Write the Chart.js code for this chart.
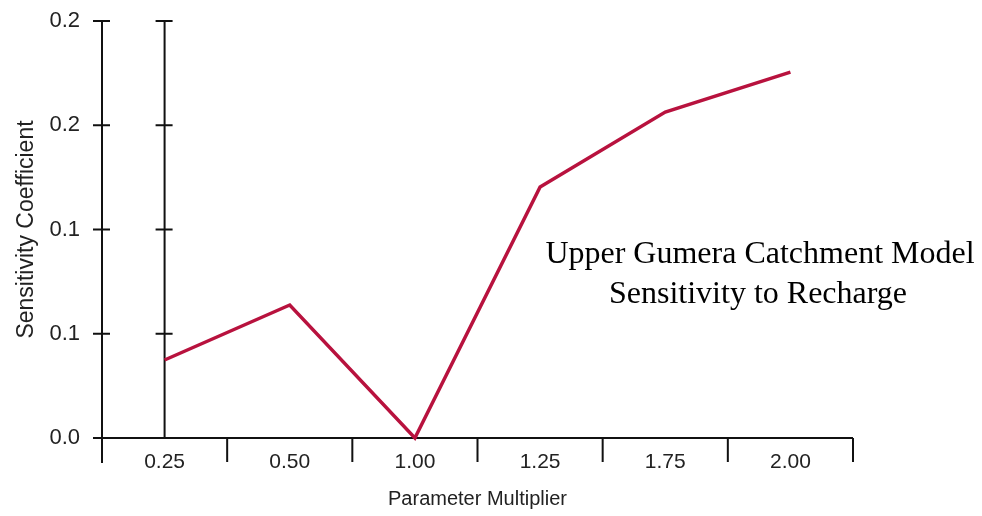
<!DOCTYPE html>
<html>
<head>
<meta charset="utf-8">
<script src="https://cdn.jsdelivr.net/npm/chart.js@4/dist/chart.umd.min.js"></script>
<style>
  html, body { margin: 0; padding: 0; background: #ffffff; }
  #wrap { position: relative; width: 982px; height: 516px; }
</style>
</head>
<body>
<div id="wrap"><canvas id="c" width="982" height="516"></canvas></div>
<script>
// ---- data ----
const categories = ['0.25', '0.50', '1.00', '1.25', '1.75', '2.00'];
const sensitivity = [0.0374, 0.0638, 0.0, 0.1204, 0.1563, 0.1755];
const yTickValues = [0, 0.05, 0.1, 0.15, 0.2];
const yTickLabels = ['0.0', '0.1', '0.1', '0.2', '0.2'];
const xTitle = 'Parameter Multiplier';
const yTitle = 'Sensitivity Coefficient';
const noteLines = ['Upper Gumera Catchment Model', 'Sensitivity to Recharge'];

const axisFont = "'Liberation Sans', Arial, sans-serif";
const axisColor = '#111111';

const axesPlugin = {
  id: 'customAxes',
  beforeDatasetsDraw(chart) {
    const ctx = chart.ctx;
    const xs = chart.scales.x, ys = chart.scales.y;
    const top = ys.getPixelForValue(ys.max);
    const base = ys.getPixelForValue(0);
    const leftX = xs.getPixelForValue(-0.5);
    const rightX = xs.getPixelForValue(categories.length - 0.5);
    const midX = xs.getPixelForValue(0);
    ctx.save();
    ctx.strokeStyle = axisColor;
    ctx.lineWidth = 2;
    ctx.beginPath();
    ctx.moveTo(leftX, top); ctx.lineTo(leftX, base + 25);
    ctx.moveTo(midX, top); ctx.lineTo(midX, base);
    ctx.moveTo(leftX - 9, base); ctx.lineTo(rightX, base);
    yTickValues.forEach(v => {
      const py = ys.getPixelForValue(v);
      ctx.moveTo(leftX - 9, py); ctx.lineTo(leftX + 8, py);
      ctx.moveTo(midX - 9, py); ctx.lineTo(midX + 8, py);
    });
    for (let i = 1; i <= categories.length; i++) {
      const px = xs.getPixelForValue(i - 0.5);
      ctx.moveTo(px, base); ctx.lineTo(px, base + 24);
    }
    ctx.stroke();
    ctx.restore();
  },
  afterDraw(chart) {
    const ctx = chart.ctx;
    ctx.save();
    ctx.fillStyle = '#000000';
    ctx.font = "32px 'Liberation Serif', 'Times New Roman', serif";
    ctx.textAlign = 'center';
    ctx.textBaseline = 'alphabetic';
    ctx.fillText(noteLines[0], 760, 263);
    ctx.fillText(noteLines[1], 758, 303);
    ctx.restore();
  }
};

new Chart(document.getElementById('c'), {
  type: 'line',
  data: {
    labels: categories,
    datasets: [{
      data: sensitivity,
      borderColor: '#b8123e',
      borderWidth: 3.5,
      pointRadius: 0,
      tension: 0,
      fill: false,
      clip: false
    }]
  },
  options: {
    responsive: false,
    animation: false,
    devicePixelRatio: 1,
    layout: { padding: { left: 0, top: 21, right: 129, bottom: 0 } },
    plugins: { legend: { display: false }, tooltip: { enabled: false } },
    scales: {
      x: {
        type: 'category',
        offset: true,
        grid: { display: false, drawTicks: false, offset: true },
        border: { display: false },
        ticks: {
          color: '#222222',
          font: { family: axisFont, size: 21 },
          padding: 12,
          maxRotation: 0, autoSkip: false
        },
        title: {
          display: true, text: xTitle, color: '#222222',
          font: { family: axisFont, size: 20 },
          padding: { top: 0, bottom: 5 }
        },
        afterFit(scale) { scale.height = 78; scale.paddingLeft = 0; scale.paddingRight = 0; }
      },
      y: {
        min: 0, max: 0.2,
        afterBuildTicks(scale) { scale.ticks = yTickValues.map(v => ({ value: v })); },
        grid: { display: false, drawTicks: false },
        border: { display: false },
        ticks: {
          color: '#222222',
          font: { family: axisFont, size: 22 },
          padding: 22,
          callback: (v) => { const i = yTickValues.indexOf(v); return i >= 0 ? yTickLabels[i] : ''; }
        },
        title: {
          display: true, text: yTitle, color: '#222222',
          font: { family: axisFont, size: 23 },
          padding: { top: 13, bottom: 0 }
        },
        afterFit(scale) { scale.width = 102; scale.paddingTop = 0; scale.paddingBottom = 0; }
      }
    }
  },
  plugins: [axesPlugin]
});
</script>
</body>
</html>
